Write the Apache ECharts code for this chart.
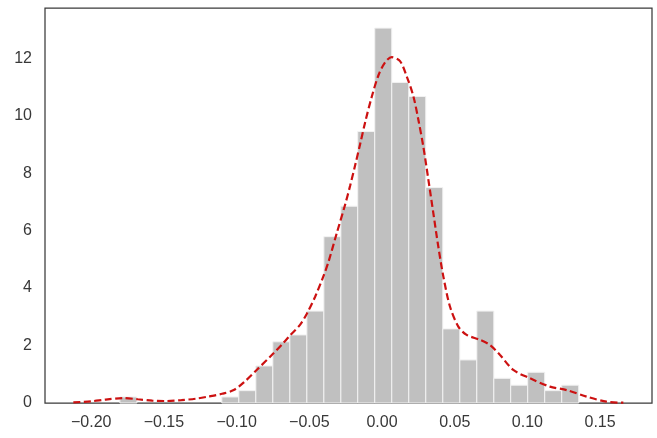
<!DOCTYPE html>
<html>
<head>
<meta charset="utf-8">
<script src="https://cdn.jsdelivr.net/npm/echarts@6/dist/echarts.min.js"></script>
<style>
html,body{margin:0;padding:0;background:#fff;}
#chart{width:657px;height:438px;}
</style>
</head>
<body>
<div id="chart"></div>
<script>
// Histogram bin edges (27 bins)
const binEdges = [-0.1803,-0.1686,-0.1569,-0.1452,-0.1335,-0.1219,-0.1102,-0.0985,-0.0868,-0.0751,
  -0.0634,-0.0517,-0.0400,-0.0283,-0.0167,-0.0050,0.0067,0.0184,0.0301,0.0418,
  0.0535,0.0652,0.0769,0.0885,0.1002,0.1119,0.1236,0.1353];
// Density of each bin
const binDensity = [0.21,0,0,0,0,0,0.21,0.43,1.29,2.13,
  2.37,3.20,5.79,6.85,9.45,13.05,11.16,10.67,7.50,2.58,
  1.50,3.20,0.86,0.62,1.07,0.43,0.62];
// KDE curve
const kdeX = [-0.2123,-0.200,-0.190,-0.178,-0.168,-0.158,-0.148,-0.138,-0.128,-0.120,
  -0.110,-0.102,-0.095,-0.0862,-0.0748,-0.068,-0.0633,-0.0564,-0.0518,-0.046,
  -0.0404,-0.0369,-0.0312,-0.0254,-0.022,-0.0186,-0.0151,-0.0117,-0.0071,-0.0025,
  0.002,0.0067,0.0124,0.017,0.0216,0.025,0.0284,0.0319,0.0353,0.0387,
  0.0422,0.0468,0.0525,0.0582,0.0674,0.0743,0.0812,0.0903,0.1018,0.1155,
  0.127,0.1408,0.1545,0.166];
const kdeY = [0.02,0.06,0.12,0.17,0.13,0.08,0.07,0.10,0.15,0.22,
  0.32,0.45,0.72,1.15,1.72,2.08,2.35,2.72,3.10,3.70,
  4.40,4.90,5.90,6.90,7.55,8.25,9.00,9.75,10.65,11.40,
  11.85,12.04,11.9,11.37,10.67,9.86,8.93,7.77,6.61,5.45,
  4.40,3.35,2.66,2.37,2.20,2.02,1.67,1.15,0.86,0.57,
  0.45,0.22,0.045,0.01];
const xTicks = [-0.20,-0.15,-0.10,-0.05,0.00,0.05,0.10,0.15];
const yTicks = [0,2,4,6,8,10,12];

const histData = [];
for (let i = 0; i < binDensity.length; i++) {
  if (binDensity[i] > 0) histData.push([binEdges[i], binEdges[i+1], binDensity[i]]);
}
const kdeData = kdeX.map((x, i) => [x, kdeY[i]]);

const font = '"Liberation Sans", Arial, sans-serif';
const chart = echarts.init(document.getElementById('chart'), null, {renderer: 'canvas'});
chart.setOption({
  animation: false,
  backgroundColor: '#ffffff',
  grid: {left: 45, right: 5, top: 8, bottom: 35, show: true, borderColor: '#3a3a3a', borderWidth: 1.25, backgroundColor: 'transparent'},
  xAxis: {
    type: 'value', min: -0.2318, max: 0.1857,
    splitLine: {show: false},
    axisLine: {show: false},
    axisTick: {show: false},
    axisLabel: {
      customValues: xTicks, showMinLabel: true, showMaxLabel: true,
      margin: 12, color: '#383838', fontSize: 16, fontFamily: font,
      formatter: v => (v < 0 ? '\u2212' : '') + Math.abs(v).toFixed(2)
    }
  },
  yAxis: {
    type: 'value', min: 0, max: 13.75,
    splitLine: {show: false},
    axisLine: {show: false},
    axisTick: {show: false},
    axisLabel: {
      customValues: yTicks,
      margin: 13, color: '#383838', fontSize: 16, fontFamily: font,
      formatter: v => String(v)
    }
  },
  series: [
    {
      type: 'custom',
      data: histData,
      z: 2,
      renderItem: function (params, api) {
        const p0 = api.coord([api.value(0), 0]);
        const p1 = api.coord([api.value(1), api.value(2)]);
        return {
          type: 'rect',
          shape: {x: p0[0], y: p1[1], width: p1[0] - p0[0], height: p0[1] - p1[1]},
          style: {fill: '#c0c0c0', stroke: '#f2f2f2', lineWidth: 1}
        };
      }
    },
    {
      type: 'line',
      data: kdeData,
      z: 3,
      smooth: 0.3,
      showSymbol: false,
      lineStyle: {color: '#cc1111', width: 2.2, type: [7, 3.5]}
    }
  ]
});
</script>
</body>
</html>
